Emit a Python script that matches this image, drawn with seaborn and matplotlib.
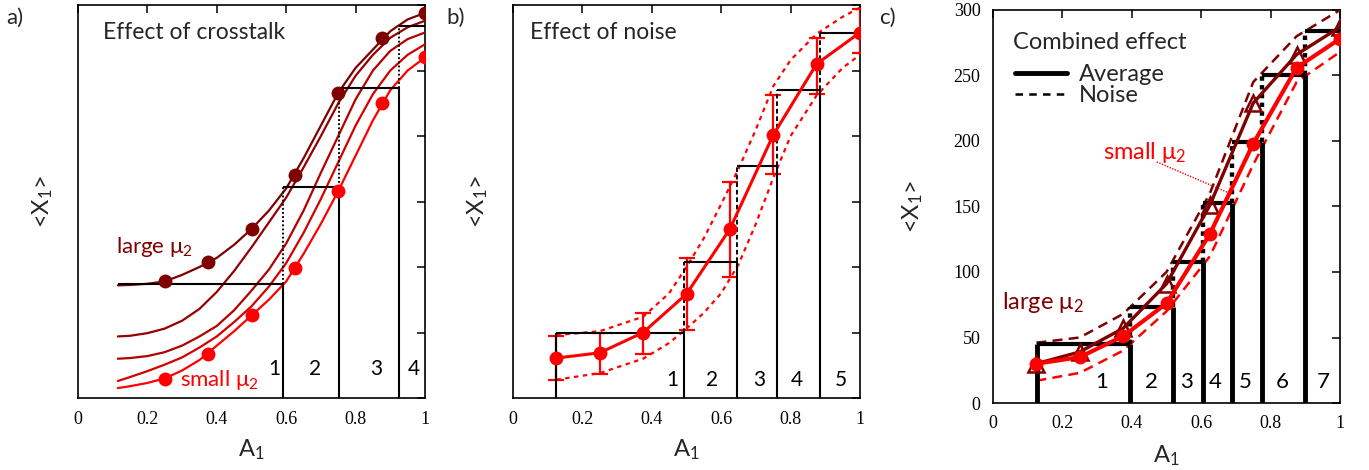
import numpy as np
import pandas as pd
import matplotlib
matplotlib.use("Agg")
import matplotlib.pyplot as plt
import seaborn as sns
from matplotlib.lines import Line2D

sns.set_theme(style="white")
plt.rcParams['font.family'] = ['Lato', 'DejaVu Sans']
plt.rcParams['mathtext.default'] = 'regular'

DARK = "#7f0000"
RED = "#ff0000"
CURVE_COLORS = ["#7f0000", "#960000", "#b30000", "#d40000", "#ff0000"]

# ---------------- Panel a: effect of crosstalk ----------------
a_curve_x = [0.115, 0.15, 0.2, 0.25, 0.3, 0.35, 0.4, 0.45, 0.5, 0.55, 0.6, 0.65,
             0.7, 0.75, 0.8, 0.85, 0.9, 0.95, 1.0]
a_curve1 = [86, 86.3, 87.2, 89, 94, 100, 107, 117, 129, 143, 160, 183, 208, 233, 252, 266, 280, 289, 294]
a_curve2 = [47, 47.5, 49.5, 53, 59, 68, 81, 97, 115, 134, 153, 176, 200, 225, 246, 262, 275, 283, 288]
a_curve3 = [30, 30.5, 32, 35, 40, 47, 55, 67, 82, 98, 118, 143, 172, 200, 228, 250, 265, 274, 279]
a_curve4 = [13, 16, 20.5, 25.5, 31, 38.5, 47, 58, 70, 85, 103, 126, 152, 180, 208, 232, 250, 262, 270]
a_curve5 = [7.6, 9, 11.5, 15, 21, 29, 40, 51, 63, 75, 89, 110, 133, 158, 185, 212, 235, 250, 260]
a_dot_x = [0.25, 0.375, 0.5, 0.625, 0.75, 0.875, 1.0]
a_dots_large = [89, 104, 129, 170, 233, 275, 294]
a_dots_small = [14.5, 33.6, 63, 99, 158, 225, 260]
a_step_x = [0.115, 0.59, 0.753, 0.925, 1.0]
a_step_y = [87, 161, 237, 284]
a_region_labels = ["1", "2", "3", "4"]
a_region_x = [0.567, 0.683, 0.858, 0.969]

# ---------------- Panel b: effect of noise ----------------
b_x = [0.125, 0.25, 0.375, 0.5, 0.625, 0.75, 0.875, 1.0]
b_mean = [30.5, 34.5, 50, 79.4, 129, 200.8, 255, 279]
b_lo = [14, 18, 33.6, 52, 92, 171, 232, 263]
b_hi = [47.5, 50, 65, 107, 165, 231, 275, 297]
b_env_x = [0.125, 0.25, 0.375, 0.45, 0.5, 0.55, 0.6, 0.65, 0.7, 0.75, 0.8, 0.875, 0.95, 1.0]
b_env_hi = [48, 51, 62, 80, 100, 122, 148, 175, 205, 238, 258, 278, 291, 298]
b_env_lo = [14, 19, 30, 42, 53, 65, 80, 102, 133, 168, 200, 231, 252, 262]
b_step_x = [0.125, 0.493, 0.645, 0.76, 0.885, 1.0]
b_step_y = [50, 104, 177, 235, 279]
b_region_labels = ["1", "2", "3", "4", "5"]
b_region_x = [0.459, 0.574, 0.709, 0.819, 0.945]

# ---------------- Panel c: combined effect ----------------
c_x = [0.125, 0.25, 0.375, 0.5, 0.625, 0.75, 0.875, 1.0]
c_small = [30, 35, 51, 76, 129, 198, 256, 278]
c_large = [30, 39, 57, 91, 151, 229, 266, 287]
c_noise_large = [46, 50, 68, 100, 160, 245, 280, 300]
c_noise_small = [17, 23, 40, 70, 112, 182, 245, 268]
c_step_x = [0.127, 0.395, 0.52, 0.605, 0.689, 0.776, 0.9, 1.0]
c_step_y = [45, 73, 108, 153, 199, 250, 284]
c_region_labels = ["1", "2", "3", "4", "5", "6", "7"]
c_region_x = [0.314, 0.458, 0.558, 0.64, 0.726, 0.833, 0.951]
c_pointer_x = [0.472, 0.683]
c_pointer_y = [184, 160]

xtick_vals = [0, 0.2, 0.4, 0.6, 0.8, 1.0]
xtick_labels = ["0", "0.2", "0.4", "0.6", "0.8", "1"]
ytick_vals = [0, 50, 100, 150, 200, 250, 300]
ytick_labels = ["0", "50", "100", "150", "200", "250", "300"]

W, H = 1369, 470
fig = plt.figure(figsize=(W / 100, H / 100), dpi=100)
ax_a = fig.add_axes([78 / W, 1 - 398 / H, 347 / W, 393 / H])
ax_b = fig.add_axes([513 / W, 1 - 398 / H, 347 / W, 393 / H])
ax_c = fig.add_axes([993 / W, 1 - 403 / H, 347 / W, 393 / H])

SERIF = "Liberation Serif"


def setup(ax, show_y, ylab_x, xlab_y):
    ax.set_xlim(0, 1)
    ax.set_ylim(0, 300)
    ax.set_xticks(xtick_vals)
    ax.set_xticklabels(xtick_labels, fontfamily=SERIF, fontsize=13)
    ax.set_yticks(ytick_vals)
    if show_y:
        ax.set_yticklabels(ytick_labels, fontfamily=SERIF, fontsize=13)
    else:
        ax.set_yticklabels([])
    ax.tick_params(direction='in', top=True, right=True, length=6, width=1.1,
                   colors='black', pad=9)
    for s in ax.spines.values():
        s.set_linewidth(1.2)
        s.set_color('black')
    ax.set_xlabel("A$_1$", fontsize=17)
    ax.set_ylabel("<X$_1$>", fontsize=17)
    ax.xaxis.set_label_coords(0.5, xlab_y)
    ax.yaxis.set_label_coords(ylab_x, 0.5)


def draw_steps(ax, bx, levels, lw_h, lw_v, vstyle, first_vertical):
    bx = np.asarray(bx)
    levels = np.asarray(levels)
    ax.hlines(levels, bx[:-1], bx[1:], colors='black', linewidth=lw_h, zorder=4)
    ax.vlines(bx[1:-1], 0, levels[:-1], colors='black', linewidth=lw_v, zorder=4)
    ax.vlines(bx[1:-1], levels[:-1], levels[1:], colors='black', linewidth=lw_v * 0.9,
              linestyles=vstyle, zorder=4)
    if first_vertical:
        ax.vlines(bx[0], 0, levels[0], colors='black', linewidth=lw_v, zorder=4)


# ---------- Panel a ----------
setup(ax_a, False, -0.066, -0.1)
for ys, col in zip([a_curve1, a_curve2, a_curve3, a_curve4, a_curve5], CURVE_COLORS):
    sns.lineplot(x=a_curve_x, y=ys, ax=ax_a, color=col, linewidth=1.6,
                 estimator=None, sort=False, zorder=3)
sns.lineplot(x=a_dot_x, y=a_dots_large, ax=ax_a, color=DARK, linestyle='none',
             marker='o', markersize=10, markeredgewidth=0, estimator=None, sort=False, zorder=5)
sns.lineplot(x=a_dot_x, y=a_dots_small, ax=ax_a, color=RED, linestyle='none',
             marker='o', markersize=10, markeredgewidth=0, estimator=None, sort=False, zorder=5)
draw_steps(ax_a, a_step_x, a_step_y, 1.5, 1.5, (0, (1, 1.2)), False)
for lab, xx in zip(a_region_labels, a_region_x):
    ax_a.text(xx, 22, lab, fontsize=15, ha='center', va='center', color='black')
ax_a.text(0.072, 279, "Effect of crosstalk", fontsize=16.5, ha='left', va='center')
ax_a.text(0.11, 115, "large μ$_2$", fontsize=16, ha='left', va='center', color=DARK)
ax_a.text(0.294, 14, "small μ$_2$", fontsize=16, ha='left', va='center', color=RED)

# ---------- Panel b ----------
setup(ax_b, False, -0.066, -0.1)
sns.lineplot(x=b_env_x, y=b_env_hi, ax=ax_b, color=RED, linewidth=1.6,
             linestyle=(0, (2, 2)), estimator=None, sort=False, zorder=3)
sns.lineplot(x=b_env_x, y=b_env_lo, ax=ax_b, color=RED, linewidth=1.6,
             linestyle=(0, (2, 2)), estimator=None, sort=False, zorder=3)
b_mean_arr = np.array(b_mean)
ax_b.errorbar(b_x, b_mean, yerr=[b_mean_arr - np.array(b_lo), np.array(b_hi) - b_mean_arr],
              fmt='none', ecolor=RED, elinewidth=1.6, capsize=6, capthick=1.6, zorder=3)
sns.lineplot(x=b_x, y=b_mean, ax=ax_b, color=RED, linewidth=2.2, marker='o',
             markersize=10, markeredgewidth=0, estimator=None, sort=False, zorder=5)
draw_steps(ax_b, b_step_x, b_step_y, 1.5, 1.5, (0, (2.5, 1.5)), True)
for lab, xx in zip(b_region_labels, b_region_x):
    ax_b.text(xx, 14, lab, fontsize=15, ha='center', va='center', color='black')
ax_b.text(0.049, 279, "Effect of noise", fontsize=16.5, ha='left', va='center')

# ---------- Panel c ----------
setup(ax_c, True, -0.196, -0.102)
sns.lineplot(x=c_x, y=c_noise_large, ax=ax_c, color=DARK, linewidth=1.8,
             linestyle=(0, (4, 2.5)), estimator=None, sort=False, zorder=3)
sns.lineplot(x=c_x, y=c_noise_small, ax=ax_c, color=RED, linewidth=1.8,
             linestyle=(0, (4, 2.5)), estimator=None, sort=False, zorder=3)
draw_steps(ax_c, c_step_x, c_step_y, 3.0, 3.5, (0, (1, 1)), True)
sns.lineplot(x=c_x, y=c_large, ax=ax_c, color=DARK, linewidth=2.4, marker='^',
             markersize=11, markerfacecolor='none', markeredgecolor=DARK,
             markeredgewidth=1.8, estimator=None, sort=False, zorder=5)
sns.lineplot(x=c_x, y=c_small, ax=ax_c, color=RED, linewidth=3, marker='o',
             markersize=10, markeredgewidth=0, estimator=None, sort=False, zorder=6)
for lab, xx in zip(c_region_labels, c_region_x):
    ax_c.text(xx, 16, lab, fontsize=16, ha='center', va='center', color='black')
ax_c.plot(c_pointer_x, c_pointer_y, color=RED, linewidth=1.0, linestyle=(0, (1, 1)), zorder=3)
ax_c.text(0.317, 191, "small μ$_2$", fontsize=17, ha='left', va='center', color=RED)
ax_c.text(0.026, 77, "large μ$_2$", fontsize=17, ha='left', va='center', color=DARK)
ax_c.text(0.058, 275, "Combined effect", fontsize=17, ha='left', va='center')
handles = [Line2D([], [], color='black', linewidth=3.5),
           Line2D([], [], color='black', linewidth=1.8, linestyle=(0, (3, 2.5)))]
leg = ax_c.legend(handles, ["Average", "Noise"],
                  loc='upper left', bbox_to_anchor=(0.063, 0.862), frameon=False,
                  fontsize=17, handlelength=2.2, borderpad=0.0,
                  labelspacing=0.0, handletextpad=0.5, borderaxespad=0.0)

# panel letters
fig.text(6 / W, 1 - 18 / H, "a)", fontsize=16, ha='left', va='center')
fig.text(446 / W, 1 - 18 / H, "b)", fontsize=16, ha='left', va='center')
fig.text(879 / W, 1 - 18 / H, "c)", fontsize=16, ha='left', va='center')

fig.savefig("out.png", dpi=100)
